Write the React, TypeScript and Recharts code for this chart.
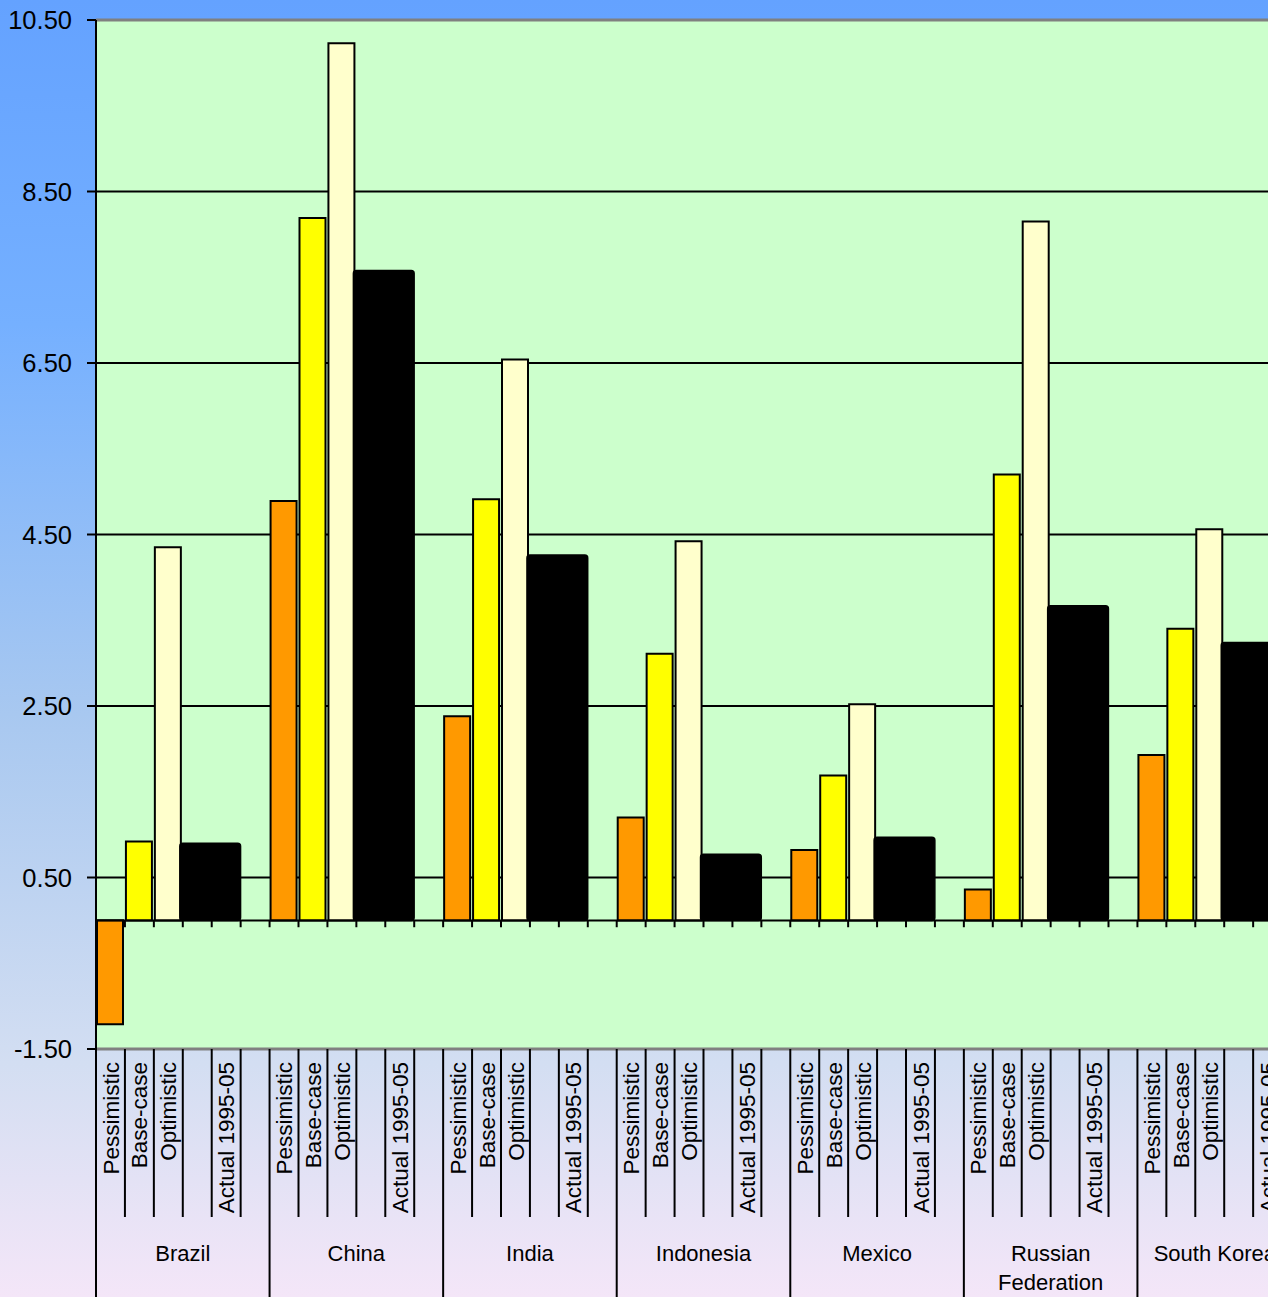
import React from 'react';
import { BarChart, Bar, XAxis, YAxis, CartesianGrid, ReferenceLine, Cell } from 'recharts';

// Growth by scenario per country, plus the actual 1995-05 figure
const countries = ['Brazil', 'China', 'India', 'Indonesia', 'Mexico', 'Russian Federation', 'South Korea'];
const subLabels = ['Pessimistic', 'Base-case', 'Optimistic', '', 'Actual 1995-05', ''];
const pessimistic = [-1.21, 4.89, 2.38, 1.2, 0.82, 0.36, 1.93];
const baseCase = [0.92, 8.19, 4.91, 3.11, 1.69, 5.2, 3.4];
const optimistic = [4.35, 10.23, 6.54, 4.42, 2.52, 8.15, 4.56];
const actual = [0.9, 7.58, 4.26, 0.77, 0.97, 3.67, 3.24];
const yTicks = [-1.5, 0.5, 2.5, 4.5, 6.5, 8.5, 10.5];

const scenarioFills = ['#FF9900', '#FFFF00', '#FFFFCC'];
const FONT = '"Liberation Sans", Arial, sans-serif';

const CHART_W = 1311;
const CHART_H = 1297;
const AXIS_W = 96;
const AXIS_H = 248;
const LABEL_LIMIT = 1276; // group names are kept left of this x
const GROUP_FONT = 22;

const scenarios = [pessimistic, baseCase, optimistic];

// one row per sub-slot: 6 slots for each country
const rows = countries.flatMap((country, ci) =>
  subLabels.map((label, si) => ({
    slot: `${country}/${si}`,
    country,
    ci,
    si,
    label,
    scenario: si < 3 ? scenarios[si][ci] : null,
    actual: si === 4 ? actual[ci] : null,
  }))
);

const BAND = (CHART_W - AXIS_W) / rows.length;

let measureCtx: CanvasRenderingContext2D | null = null;
const textWidth = (s: string) => {
  if (!measureCtx) measureCtx = document.createElement('canvas').getContext('2d');
  if (!measureCtx) return s.length * GROUP_FONT * 0.5;
  measureCtx.font = `${GROUP_FONT}px "Liberation Sans", Arial, sans-serif`;
  return measureCtx.measureText(s).width;
};

const SlotTick = ({ x, y, payload }: any) => {
  const row = rows.find((r) => r.slot === payload.value);
  if (!row) return null;
  const right = x + BAND / 2;
  const left = x - BAND / 2;
  const lines = row.country.length > 12 ? row.country.split(' ') : [row.country];
  const widest = Math.max(...lines.map(textWidth));
  const pushLeft = right + widest / 2 > LABEL_LIMIT;
  const gx = pushLeft ? LABEL_LIMIT : right;
  const ty = y + 13;
  return (
    <g>
      {row.label && (
        <text
          x={x}
          y={ty}
          dy="0.36em"
          transform={`rotate(-90 ${x} ${ty})`}
          textAnchor="end"
          fontSize={22.5}
          fontFamily={FONT}
          fill="#000"
        >
          {row.label}
        </text>
      )}
      <line x1={right} x2={right} y1={y} y2={row.si === 5 ? y + AXIS_H : y + 168} stroke="#000" strokeWidth={2} />
      {row.si === 0 && row.ci === 0 && (
        <line x1={left} x2={left} y1={y} y2={y + AXIS_H} stroke="#000" strokeWidth={2} />
      )}
      {row.si === 2 && (
        <text
          x={gx}
          y={y + 212}
          textAnchor={pushLeft ? 'end' : 'middle'}
          fontSize={GROUP_FONT}
          fontFamily={FONT}
          fill="#000"
        >
          {lines.map((ln, i) => (
            <tspan key={i} x={gx} dy={i === 0 ? 0 : 29}>
              {ln}
            </tspan>
          ))}
        </text>
      )}
    </g>
  );
};

// the actual bar is wider and reaches back over the empty slot before it
const ActualBar = (p: any) => {
  if (p.payload?.actual == null || !p.height) return null;
  const top = Math.min(p.y, p.y + p.height);
  const cx = p.x + p.width / 2;
  return (
    <rect
      x={cx - BAND * 1.6}
      y={top}
      width={BAND * 2.1}
      height={Math.abs(p.height)}
      rx={3}
      fill="#000"
      stroke="#000"
      strokeWidth={1.5}
    />
  );
};

export default function App() {
  return (
    <div
      style={{
        position: 'absolute',
        left: 0,
        top: 0,
        width: 1268,
        height: 1297,
        overflow: 'hidden',
        background:
          'linear-gradient(to bottom, #64A2FF 0%, #75B0FF 25%, #A8C8F0 55%, #D3DEF2 82%, #F4E6F8 100%)',
      }}
    >
      <BarChart width={CHART_W} height={CHART_H} data={rows} margin={{ top: 20, right: 0, bottom: 0, left: 0 }}>
        <CartesianGrid xAxisId="slots" vertical={false} stroke="#000" strokeWidth={2} fill="#CCFFCC" fillOpacity={1} />
        <XAxis
          xAxisId="slots"
          dataKey="slot"
          height={AXIS_H}
          interval={0}
          tickSize={0}
          tickMargin={0}
          axisLine={false}
          tickLine={false}
          tick={<SlotTick />}
        />
        <XAxis xAxisId="actualSlots" dataKey="slot" orientation="top" height={0} hide />
        <YAxis
          type="number"
          domain={[-1.5, 10.5]}
          ticks={yTicks}
          interval={0}
          width={AXIS_W}
          tickSize={9}
          tickMargin={15}
          allowDataOverflow
          axisLine={{ stroke: '#000', strokeWidth: 2 }}
          tickLine={{ stroke: '#000', strokeWidth: 2 }}
          tick={{ fill: '#000', fontSize: 25.5, fontFamily: FONT }}
          tickFormatter={(v: number) => v.toFixed(2)}
        />
        <Bar xAxisId="slots" dataKey="scenario" barSize={26} stroke="#000" strokeWidth={2} isAnimationActive={false}>
          {rows.map((r) => (
            <Cell key={r.slot} fill={scenarioFills[r.si] ?? 'none'} />
          ))}
        </Bar>
        <Bar xAxisId="actualSlots" dataKey="actual" shape={ActualBar} isAnimationActive={false} />
        <ReferenceLine xAxisId="slots" y={0} stroke="#000" strokeWidth={2} />
        {rows.map((r) => (
          <ReferenceLine
            key={`tick-${r.slot}`}
            xAxisId="slots"
            segment={[
              { x: r.slot, y: 0 },
              { x: r.slot, y: -0.08 },
            ]}
            position="start"
            stroke="#000"
            strokeWidth={2}
          />
        ))}
        <ReferenceLine xAxisId="slots" y={10.5} stroke="#808080" strokeWidth={3} />
        <ReferenceLine xAxisId="slots" y={-1.5} stroke="#808080" strokeWidth={3} />
      </BarChart>
    </div>
  );
}
